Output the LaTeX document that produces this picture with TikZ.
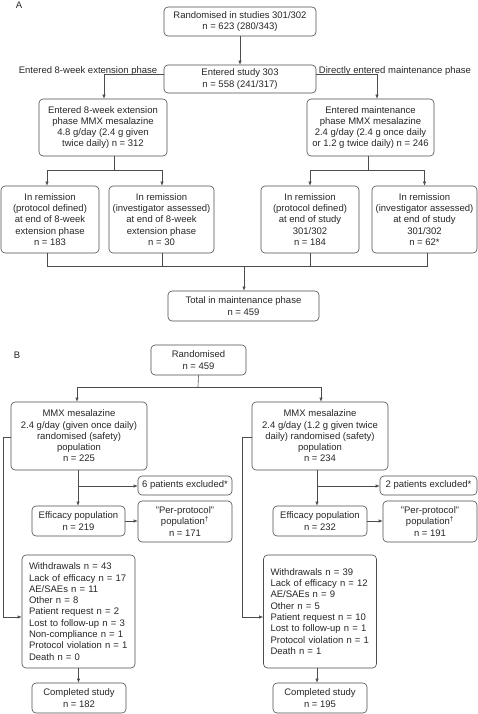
\documentclass[tikz,border=0pt]{standalone}
\usepackage{fontspec}
\setmainfont{Liberation Sans}
\usetikzlibrary{arrows.meta}
\newcommand\fsz{\fontsize{9.5}{11.3}\selectfont}
\begin{document}
\begin{tikzpicture}[x=1pt,y=-1pt,
  box/.style={draw=black!70, line width=0.6pt, rounded corners=4pt, align=center, inner sep=0pt, text=black!85, font=\fsz},
  wbox/.style={draw=black!70, line width=0.6pt, rounded corners=4pt, align=left, inner xsep=7pt, inner ysep=0pt, text=black!85, font=\fsz, text width=99pt, minimum height=113pt},
  ln/.style={draw=black!70, line width=0.6pt},
  arr/.style={ln, -{Latex[length=4pt,width=3.4pt]}},
  lbl/.style={inner sep=0pt, text=black!85, font=\fsz}]
\useasboundingbox (0,0) rectangle (478,714);

% ---------- Panel A ----------
\node[lbl] (pa) at (19,5) {A};
\node[box, minimum width=152pt, minimum height=29pt] (r1) at (240,21.5) {Randomised in studies 301/302\\n = 623 (280/343)};
\node[box, minimum width=152pt, minimum height=28pt] (e303) at (240,79) {Entered study 303\\n = 558 (241/317)};
\node[lbl] (l1) at (88,71) {Entered 8-week extension phase};
\node[lbl] (l2) at (395,71) {Directly entered maintenance phase};
\node[box, minimum width=128pt, minimum height=57pt] (ext) at (103,127.5) {Entered 8-week extension\\phase MMX mesalazine\\4.8 g/day (2.4 g given\\twice daily) n = 312};
\node[box, minimum width=127pt, minimum height=57pt] (mnt) at (370.5,127.5) {Entered maintenance\\phase MMX mesalazine\\2.4 g/day (2.4 g once daily\\or 1.2 g twice daily) n = 246};
\node[box, minimum width=98pt, minimum height=67pt] (a1) at (50,219.5) {In remission\\(protocol defined)\\at end of 8-week\\extension phase\\n = 183};
\node[box, minimum width=105pt, minimum height=67pt] (a2) at (161.5,219.5) {In remission\\(investigator assessed)\\at end of 8-week\\extension phase\\n = 30};
\node[box, minimum width=98pt, minimum height=67pt] (a3) at (310,219.5) {In remission\\(protocol defined)\\at end of study\\301/302\\n = 184};
\node[box, minimum width=105pt, minimum height=67pt] (a4) at (424.5,219.5) {In remission\\(investigator assessed)\\at end of study\\301/302\\n = 62*};
\node[box, minimum width=151pt, minimum height=30pt] (tot) at (243.5,306) {Total in maintenance phase\\n = 459};

\draw[arr] (r1.south) -- (e303.north);
\draw[arr] ([yshift=5pt]e303.west) -| ([xshift=1pt]ext.north);
\draw[arr] ([yshift=5pt]e303.east) -| ([xshift=6.5pt]mnt.north);
\coordinate (ja) at (114,170);
\draw[ln] ([xshift=11pt]ext.south) -- (ja);
\draw[arr] (ja) -| ([xshift=-3pt]a1.north);
\draw[arr] (ja) -| ([xshift=0.5pt]a2.north);
\coordinate (jb) at (368,170);
\draw[ln] ([xshift=-2.5pt]mnt.south) -- (jb);
\draw[arr] (jb) -| (a3.north);
\draw[arr] (jb) -| (a4.north);
\coordinate (jt) at (244,266);
\draw[ln] ([xshift=-3pt]a1.south) |- (jt);
\draw[ln] ([xshift=0.5pt]a2.south) |- (jt);
\draw[ln] (a3.south) |- (jt);
\draw[ln] ([xshift=2.5pt]a4.south) |- (jt);
\draw[arr] (jt) -- (tot.north -| jt);

% ---------- Panel B ----------
\node[lbl] (pb) at (17,355) {B};
\node[box, minimum width=95pt, minimum height=30pt] (rb) at (198.5,360) {Randomised\\n = 459};
\node[box, minimum width=136pt, minimum height=68pt] (m1) at (79,436) {MMX mesalazine\\2.4 g/day (given once daily)\\randomised (safety)\\population\\n = 225};
\node[box, minimum width=136pt, minimum height=68pt] (m2) at (320,436) {MMX mesalazine\\2.4 g/day (1.2 g given twice\\daily) randomised (safety)\\population\\n = 234};
\node[box, minimum width=94pt, minimum height=19pt] (ex1) at (185,485.5) {6 patients excluded*};
\node[box, minimum width=97pt, minimum height=19pt] (ex2) at (428.5,485.5) {2 patients excluded*};
\node[box, minimum width=93pt, minimum height=30pt] (eff1) at (78.5,521) {Efficacy population\\n = 219};
\node[box, minimum width=94pt, minimum height=30pt] (eff2) at (320,521) {Efficacy population\\n = 232};
\node[box, minimum width=94pt, minimum height=41pt] (pp1) at (185,521.5) {"Per-protocol"\\population\textsuperscript{†}\\n = 171};
\node[box, minimum width=94pt, minimum height=41pt] (pp2) at (430,521.5) {"Per-protocol"\\population\textsuperscript{†}\\n = 191};
\node[wbox] (w1) at (78.5,611.5) {Withdrawals n = 43\\Lack of efficacy n = 17\\AE/SAEs n = 11\\Other n = 8\\Patient request n = 2\\Lost to follow-up n = 3\\Non-compliance n = 1\\Protocol violation n = 1\\Death n = 0};
\node[wbox] (w2) at (320,611.5) {Withdrawals n = 39\\Lack of efficacy n = 12\\AE/SAEs n = 9\\Other n = 5\\Patient request n = 10\\Lost to follow-up n = 1\\Protocol violation n = 1\\Death n = 1};
\node[box, minimum width=94pt, minimum height=30pt] (c1) at (79,698) {Completed study\\n = 182};
\node[box, minimum width=94pt, minimum height=30pt] (c2) at (320,698) {Completed study\\n = 195};

\coordinate (jr) at (198,387);
\draw[ln] (rb.south) -- (jr);
\draw[arr] (jr) -| ([xshift=-2pt]m1.north);
\draw[arr] (jr) -| ([xshift=1pt]m2.north);
\coordinate (kl) at (3,437);
\draw[arr] ([yshift=-1pt]m1.west) -- (kl) |- ([yshift=-5.5pt]w1.west);
\coordinate (kr) at (242,437);
\draw[arr] ([yshift=-1pt]m2.west) -- (kr) |- ([yshift=-5.5pt]w2.west);
\coordinate (e1) at (78,486);
\draw[arr] ([xshift=-1pt]m1.south) -- ([xshift=-0.5pt]eff1.north);
\draw[arr] (e1) -- (e1 -| ex1.west);
\coordinate (e2) at (317,486);
\draw[arr] ([xshift=-3pt]m2.south) -- ([xshift=-3pt]eff2.north);
\draw[arr] (e2) -- (e2 -| ex2.west);
\draw[arr] (eff1.east) -- (eff1.east -| pp1.west);
\draw[arr] (eff2.east) -- (eff2.east -| pp2.west);
\draw[arr] (w1.south) -- (w1.south |- c1.north);
\draw[arr] ([xshift=-3pt]w2.south) -- ([xshift=-3pt]w2.south |- c2.north);
\end{tikzpicture}
\end{document}
